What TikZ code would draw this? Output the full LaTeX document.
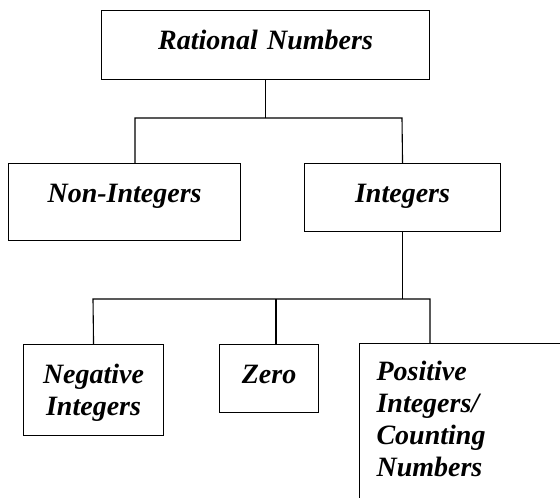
\documentclass[tikz,border=0pt]{standalone}
\usepackage{fontspec}
\setmainfont{Liberation Serif}
\usepackage{tikz}
\usetikzlibrary{positioning}

\tikzset{catbox/.style={draw, line width=1.1pt, anchor=north west, inner xsep=0pt, inner ysep=0pt,
    align=center, text height=39pt, font=\fontsize{28}{32}\selectfont\bfseries\itshape}}

\begin{document}
\begin{tikzpicture}[x=1pt, y=-1pt, line width=1.1pt]
        \useasboundingbox (0,0) rectangle (560,498);
        \node[catbox, text width=328pt, text depth=30pt] (root) at (101,10) {Rational Numbers};
        \node[catbox, text width=232pt, text depth=38pt] (non) at (8,163) {Non-Integers};
        \node[catbox, text width=196pt, text depth=29pt] (int) at (304,163) {Integers};
        \node[catbox, text width=140pt, text depth=52pt] (neg) at (23,344) {Negative\\Integers};
        \node[catbox, text width=99pt, text depth=29pt] (zero) at (219,344) {Zero};
        \node[catbox, text width=180pt, inner xsep=17pt, align=left, text height=37pt, text depth=130pt] (pos) at (359,343) {Positive\\Integers/\\Counting\\Numbers};
        % joints of the tree
        \coordinate (ja) at (135,118);
        \coordinate (jb) at (402,118);
        \coordinate (jc) at (93,299);
        \coordinate (jz) at (276,299);
        \coordinate (jd) at (430,299);
        \draw (root.south) -- (root.south |- ja);
        \draw (non.north -| ja) -- (ja) -- (jb) -- (int.north);
        \draw (int.south) -- (int.south |- jc);
        \draw (neg.north) -- (jc) -- (jd) -- (pos.north -| jd);
        \draw (zero.north -| jz) -- (jz);
      \end{tikzpicture}
\end{document}
